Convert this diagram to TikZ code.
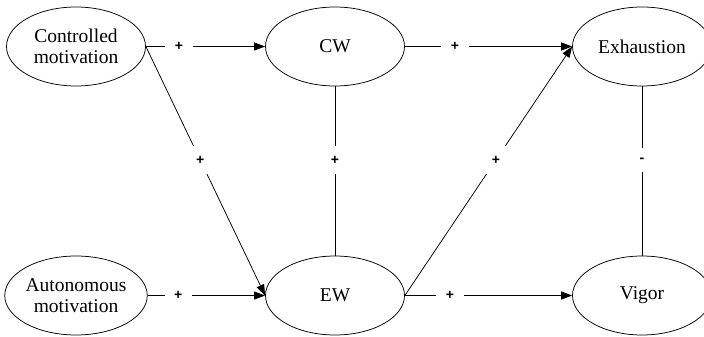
\documentclass[tikz,border=0pt]{standalone}
\usepackage{fontspec}
\setmainfont{Liberation Serif}
\newfontfamily\labfont{Liberation Sans}
\usetikzlibrary{shapes.geometric,arrows.meta}
\begin{document}
\begin{tikzpicture}[x=1pt,y=-1pt,
  var/.style={draw, ellipse, line width=0.75pt, minimum width=139pt, minimum height=79pt, inner sep=0pt, align=center, font=\fontsize{19.5}{21}\selectfont},
  lab/.style={fill=white, inner sep=9.5pt, font=\labfont\bfseries\fontsize{14}{15}\selectfont},
  conn/.style={line width=0.75pt},
  arr/.style={conn, -{Triangle[length=11pt,width=8pt]}}]
\useasboundingbox (0,0) rectangle (704,337);
\node[var] (cm) at (76,46.5) {Controlled\\motivation};
\node[var] (cw) at (335,46.5) {CW};
\node[var] (ex) at (642,46.5) {Exhaustion};
\node[var] (am) at (76,295.5) {Autonomous\\motivation};
\node[var] (ew) at (335,295.5) {EW};
\node[var] (vg) at (642,295.5) {Vigor};
\draw[arr] (cm.east) -- node[lab,pos=0.278]{+} (cw.west);
\draw[arr] (cw.east) -- node[lab,pos=0.3]{+} (ex.west);
\draw[arr] (cm.east) -- node[lab,pos=0.456]{+} (ew.west);
\draw[conn] (cw.south) -- node[lab,pos=0.435]{+} (ew.north);
\draw[arr] (ew.east) -- node[lab,pos=0.544]{+} (ex.west);
\draw[conn] (ex.south) -- node[lab,pos=0.435]{-} (vg.north);
\draw[arr] (am.east) -- node[lab,pos=0.26]{+} (ew.west);
\draw[arr] (ew.east) -- node[lab,pos=0.27]{+} (vg.west);
\end{tikzpicture}
\end{document}
